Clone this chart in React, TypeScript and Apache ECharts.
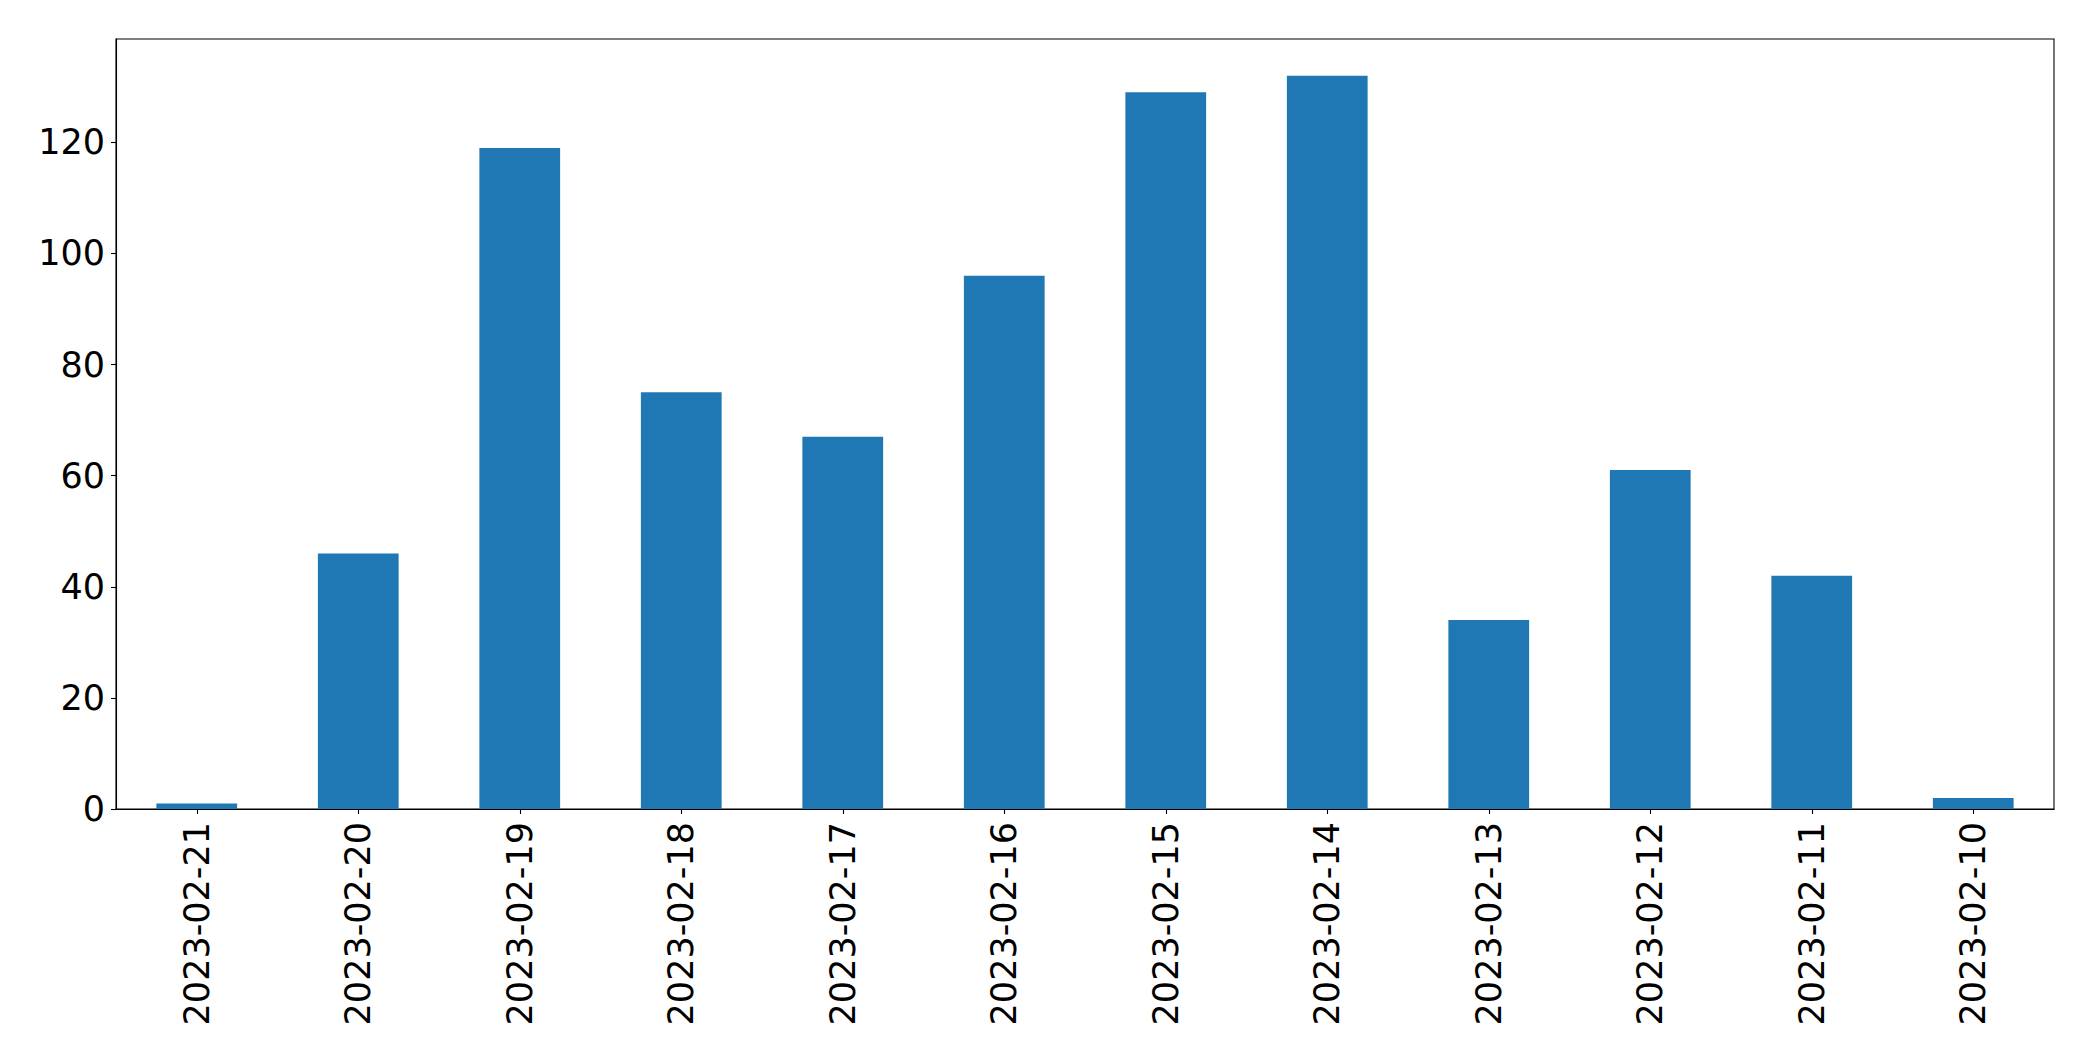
import React, { useEffect, useRef } from "react";
import * as echarts from "echarts";

const categories = [
  "2023-02-21", "2023-02-20", "2023-02-19", "2023-02-18", "2023-02-17", "2023-02-16",
  "2023-02-15", "2023-02-14", "2023-02-13", "2023-02-12", "2023-02-11", "2023-02-10",
];
const counts = [1, 46, 119, 75, 67, 96, 129, 132, 34, 61, 42, 2];
const yTicks = [0, 20, 40, 60, 80, 100, 120];
const yMax = 138.6;

export default function App() {
  const ref = useRef<HTMLDivElement>(null);
  useEffect(() => {
    if (!ref.current) return;
    const chart = echarts.init(ref.current, null, { renderer: "svg" });
    const font = "DejaVu Sans";
    chart.setOption({
      animation: false,
      backgroundColor: "#ffffff",
      grid: {
        left: 116,
        right: 39,
        top: 39,
        bottom: 252,
        show: true,
        borderColor: "#000000",
        borderWidth: 1.1,
        containLabel: false,
      },
      xAxis: {
        type: "category",
        data: categories,
        boundaryGap: true,
        axisLine: { show: true, lineStyle: { color: "#000000", width: 1.1 } },
        axisTick: { show: true, alignWithLabel: true, length: 5, lineStyle: { color: "#000000", width: 1.1 } },
        axisLabel: {
          rotate: 90,
          margin: 13,
          fontSize: 35,
          fontFamily: font,
          color: "#000000",
          interval: 0,
        },
        splitLine: { show: false },
      },
      yAxis: {
        type: "value",
        min: 0,
        max: yMax,
        interval: 20,
        axisLine: { show: true, lineStyle: { color: "#000000", width: 1.1 } },
        axisTick: { show: true, length: 5, customValues: yTicks, lineStyle: { color: "#000000", width: 1.1 } },
        axisLabel: {
          margin: 11,
          fontSize: 35,
          fontFamily: font,
          color: "#000000",
          customValues: yTicks,
        },
        splitLine: { show: false },
      },
      series: [
        {
          type: "bar",
          data: counts,
          barWidth: "50%",
          itemStyle: { color: "#1f77b4" },
        },
      ],
    });
    return () => chart.dispose();
  }, []);
  return (
    <div
      ref={ref}
      style={{ position: "fixed", left: 0, top: 0, width: 2093, height: 1061, background: "#fff" }}
    />
  );
}
